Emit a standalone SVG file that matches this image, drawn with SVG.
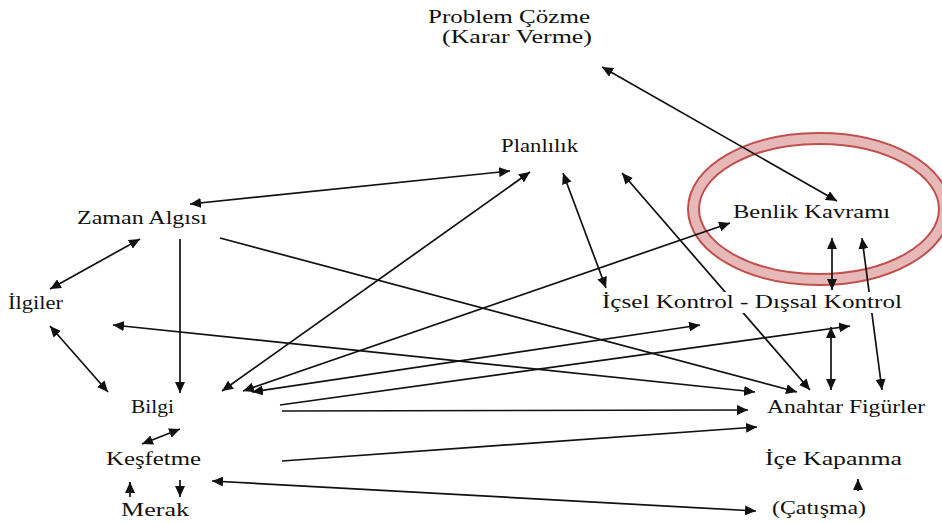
<svg xmlns="http://www.w3.org/2000/svg" width="942" height="523" viewBox="0 0 942 523">
<defs>
<marker id="arr" viewBox="0 0 11 10" refX="11" refY="5" markerUnits="userSpaceOnUse" markerWidth="11" markerHeight="10" orient="auto-start-reverse">
<path d="M0,0 L11,5 L0,10 z" fill="#111"/>
</marker>
<style>
.c line{stroke:#111;stroke-width:1.7;fill:none;}
.bg{fill:#fff;}
</style>
</defs>
<rect width="942" height="523" fill="#fff"/>
<g id="highlight">
<ellipse cx="819" cy="209" rx="125.5" ry="70.5" fill="none" stroke="#C0504D" stroke-width="13"/>
<ellipse cx="819" cy="209" rx="125.5" ry="70.5" fill="none" stroke="#E6B9B8" stroke-width="9"/>
</g>
<g id="connectors" class="c">
<line x1="602" y1="67" x2="837" y2="201" marker-start="url(#arr)" marker-end="url(#arr)"/>
<line x1="190" y1="204" x2="510" y2="171" marker-start="url(#arr)" marker-end="url(#arr)"/>
<line x1="140" y1="239" x2="50" y2="289" marker-start="url(#arr)" marker-end="url(#arr)"/>
<line x1="180" y1="239" x2="180" y2="393" marker-end="url(#arr)"/>
<line x1="220" y1="238" x2="797" y2="392" marker-end="url(#arr)"/>
<line x1="50" y1="326" x2="108" y2="392" marker-start="url(#arr)" marker-end="url(#arr)"/>
<line x1="113" y1="325" x2="755" y2="392" marker-start="url(#arr)" marker-end="url(#arr)"/>
<line x1="222" y1="391" x2="530" y2="172" marker-start="url(#arr)" marker-end="url(#arr)"/>
<line x1="243" y1="391" x2="730" y2="223" marker-start="url(#arr)" marker-end="url(#arr)"/>
<line x1="252" y1="392" x2="700" y2="325" marker-start="url(#arr)" marker-end="url(#arr)"/>
<line x1="280" y1="405" x2="850" y2="326" marker-end="url(#arr)"/>
<line x1="282" y1="411" x2="748" y2="410" marker-end="url(#arr)"/>
<line x1="180" y1="429" x2="142" y2="444" marker-start="url(#arr)" marker-end="url(#arr)"/>
<line x1="282" y1="461" x2="757" y2="427" marker-end="url(#arr)"/>
<line x1="212" y1="481" x2="756" y2="511" marker-start="url(#arr)" marker-end="url(#arr)"/>
<line x1="130" y1="497" x2="130" y2="482" marker-end="url(#arr)"/>
<line x1="180" y1="480" x2="180" y2="497" marker-end="url(#arr)"/>
<line x1="858" y1="491" x2="858" y2="479" marker-end="url(#arr)"/>
<line x1="606" y1="288" x2="563" y2="173" marker-start="url(#arr)" marker-end="url(#arr)"/>
<line x1="622" y1="173" x2="810" y2="390" marker-start="url(#arr)" marker-end="url(#arr)"/>
<line x1="832" y1="238" x2="832" y2="290" marker-start="url(#arr)" marker-end="url(#arr)"/>
<line x1="831" y1="327" x2="831" y2="390" marker-start="url(#arr)" marker-end="url(#arr)"/>
<line x1="862" y1="238" x2="882" y2="390" marker-start="url(#arr)" marker-end="url(#arr)"/>
</g>
<g font-family="Liberation Serif" font-size="18" fill="#111">
<g id="problem-cozme"><text x="428" y="23" textLength="162" lengthAdjust="spacingAndGlyphs">Problem Çözme</text><text x="442" y="43" textLength="150" lengthAdjust="spacingAndGlyphs">(Karar Verme)</text></g>
<g id="planlilik"><text x="501" y="152" textLength="77" lengthAdjust="spacingAndGlyphs">Planlılık</text></g>
<g id="zaman-algisi"><text x="77" y="224" textLength="130" lengthAdjust="spacingAndGlyphs">Zaman Algısı</text></g>
<g id="ilgiler"><text x="8" y="309" textLength="55" lengthAdjust="spacingAndGlyphs">İlgiler</text></g>
<g id="bilgi"><text x="131" y="413" textLength="43" lengthAdjust="spacingAndGlyphs">Bilgi</text></g>
<g id="kesfetme"><text x="106" y="465" textLength="95" lengthAdjust="spacingAndGlyphs">Keşfetme</text></g>
<g id="merak"><text x="121" y="516" textLength="68" lengthAdjust="spacingAndGlyphs">Merak</text></g>
<g id="benlik-kavrami"><text x="733" y="218" textLength="157" lengthAdjust="spacingAndGlyphs">Benlik Kavramı</text></g>
<g id="icsel-dissal-kontrol"><rect class="bg" x="598" y="292" width="308" height="21"/><text x="602" y="308" textLength="300" lengthAdjust="spacingAndGlyphs">İçsel Kontrol - Dışsal Kontrol</text></g>
<g id="anahtar-figurler"><text x="767" y="413" textLength="158" lengthAdjust="spacingAndGlyphs">Anahtar Figürler</text></g>
<g id="ice-kapanma"><text x="765" y="465" textLength="137" lengthAdjust="spacingAndGlyphs">İçe Kapanma</text></g>
<g id="catisma"><text x="772" y="514" textLength="94" lengthAdjust="spacingAndGlyphs">(Çatışma)</text></g>
</g>
</svg>
